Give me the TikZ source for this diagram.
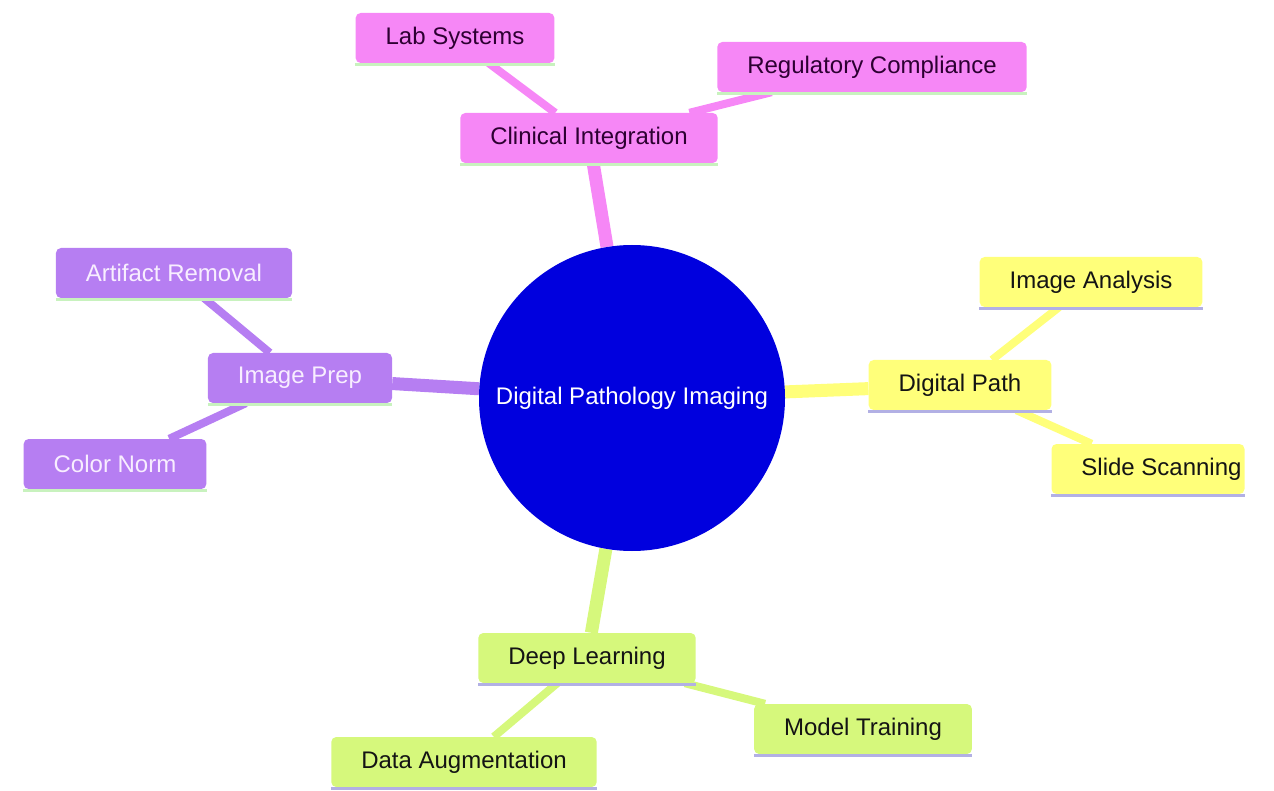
\documentclass[tikz,border=0pt]{standalone}
\usepackage{fontspec}
\setmainfont{Liberation Sans}
\usetikzlibrary{backgrounds}
\definecolor{pinkf}{RGB}{246,135,246}
\definecolor{pinkt}{RGB}{45,0,50}
\definecolor{purpf}{RGB}{182,126,242}
\definecolor{purpt}{RGB}{248,238,255}
\definecolor{yelf}{RGB}{255,255,122}
\definecolor{grnf}{RGB}{214,248,124}
\definecolor{darkt}{RGB}{20,20,20}
\definecolor{ulgreen}{RGB}{200,242,190}
\definecolor{ullav}{RGB}{178,176,228}
\definecolor{centf}{RGB}{0,0,222}
\tikzset{
  box/.style={rectangle, rounded corners=5pt, inner xsep=30pt, inner ysep=0pt,
    minimum height=50pt, font=\fontsize{24}{28}\selectfont},
  pinkbox/.style={box, fill=pinkf, text=pinkt},
  purpbox/.style={box, fill=purpf, text=purpt},
  yelbox/.style={box, fill=yelf, text=darkt},
  grnbox/.style={box, fill=grnf, text=darkt},
  edgeA/.style={line width=13pt},
  edgeB/.style={line width=8pt},
  uline/.style={line width=3pt},
}
\begin{document}
\begin{tikzpicture}[x=1pt,y=-1pt]
\useasboundingbox (0,0) rectangle (1274,791);
\node[circle, fill=centf, minimum size=306pt, inner sep=0pt, text=white,
  font=\fontsize{24}{28}\selectfont] (c) at (632,398) {Digital Pathology Imaging};

\node[pinkbox] (cl) at (589,138) {Clinical Integration};
\node[pinkbox] (lab) at (455,38) {Lab Systems};
\node[pinkbox] (reg) at (872,67) {Regulatory Compliance};

\node[yelbox] (dp) at (960,385) {Digital Path};
\node[yelbox] (ia) at (1091,282) {Image Analysis};
\node[yelbox, inner xsep=0pt, minimum width=193pt] (ss) at (1148,469) {\hspace*{27pt}Slide Scanning};

\node[purpbox] (ip) at (300,378) {Image Prep};
\node[purpbox] (ar) at (174,273) {Artifact Removal};
\node[purpbox] (cn) at (115,464) {Color Norm};

\node[grnbox] (dl) at (587,658) {Deep Learning};
\node[grnbox] (da) at (464,762) {Data Augmentation};
\node[grnbox] (mt) at (863,729) {Model Training};

\begin{scope}[on background layer]
  \draw[edgeA, pinkf] (c) -- (cl);
  \draw[edgeB, pinkf] (cl) -- (lab);
  \draw[edgeB, pinkf] (cl) -- (reg);
  \draw[edgeA, yelf] (c) -- (dp);
  \draw[edgeB, yelf] (dp) -- (ia);
  \draw[edgeB, yelf] (dp) -- (ss);
  \draw[edgeA, purpf] (c) -- (ip);
  \draw[edgeB, purpf] (ip) -- (ar);
  \draw[edgeB, purpf] (ip) -- (cn);
  \draw[edgeA, grnf] (c) -- (dl);
  \draw[edgeB, grnf] (dl) -- (da);
  \draw[edgeB, grnf] (dl) -- (mt);
\end{scope}

\foreach \n/\col in {cl/ulgreen, lab/ulgreen, reg/ulgreen, ip/ulgreen, ar/ulgreen, cn/ulgreen,
  dp/ullav, ia/ullav, ss/ullav, dl/ullav, da/ullav, mt/ullav}
  \draw[uline, \col] ([yshift=-1.5pt]\n.south west) -- ([yshift=-1.5pt]\n.south east);
\end{tikzpicture}
\end{document}
